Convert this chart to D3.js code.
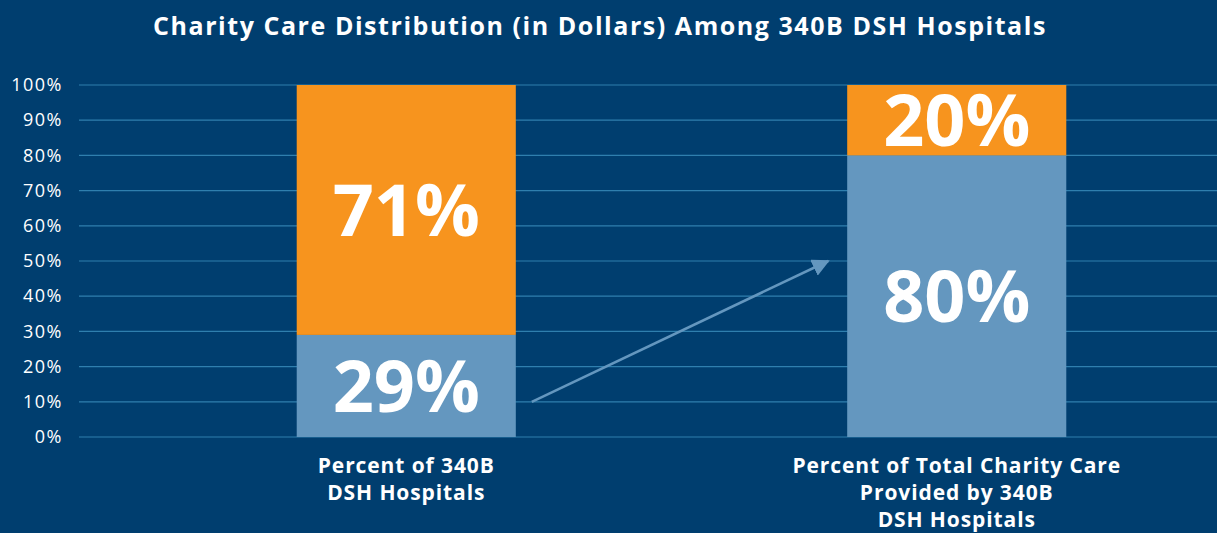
<!DOCTYPE html>
<html>
<head>
<meta charset="utf-8">
<script src="https://cdn.jsdelivr.net/npm/d3@7"></script>
<style>
  html, body { margin: 0; padding: 0; background: #003e6f; }
  #chart { width: 1217px; height: 533px; }
  text { font-family: "Open Sans", sans-serif; }
</style>
</head>
<body>
<div id="chart"></div>
<script>
"use strict";

const categories = ["Percent of 340B DSH Hospitals", "Percent of Total Charity Care Provided by 340B DSH Hospitals"];
const categoryLines = [
  ["Percent of 340B", "DSH Hospitals"],
  ["Percent of Total Charity Care", "Provided by 340B", "DSH Hospitals"],
];
const bottomValues = [29, 80]; // blue share
const topValues = [71, 20]; // orange share
const yTicks = [0, 10, 20, 30, 40, 50, 60, 70, 80, 90, 100];
const arrowFrom = 10; // arrow start level (%)
const arrowTo = 50; // arrow end level (%)

const bg = "#003e6f";
const blue = "#6497bf";
const orange = "#f7941e";
const gridColor = "#2f7fae";

const w = 1217;
const h = 533;

const svg = d3.select("#chart").append("svg").attr("width", w).attr("height", h);

svg.append("rect").attr("width", w).attr("height", h).attr("fill", bg);

// title
svg.append("text")
  .attr("x", 600)
  .attr("y", 35)
  .attr("text-anchor", "middle")
  .attr("fill", "#fff")
  .attr("font-size", 25)
  .attr("font-weight", 700)
  .attr("letter-spacing", 1.55)
  .text("Charity Care Distribution (in Dollars) Among 340B DSH Hospitals");

const y = d3.scaleLinear().domain([0, 100]).range([437, 85]);

const x = d3.scaleBand()
  .domain(categories)
  .range([79, 1284])
  .paddingInner(0.602)
  .paddingOuter(0.3955);

// gridlines
svg.append("g")
  .selectAll("line")
  .data(yTicks)
  .enter()
  .append("line")
  .attr("x1", 79)
  .attr("x2", w)
  .attr("y1", (d) => y(d))
  .attr("y2", (d) => y(d))
  .attr("stroke", gridColor)
  .attr("stroke-width", 1.2);

// y axis labels
const yAxis = svg.append("g")
  .attr("transform", "translate(63,0)")
  .call(d3.axisLeft(y).tickValues(yTicks).tickSize(0).tickPadding(0).tickFormat((d) => d + "%"));
yAxis.select(".domain").remove();
yAxis.selectAll("text")
  .attr("fill", "#fff")
  .attr("font-size", 18)
  .attr("letter-spacing", 1.5)
  .style("font-family", "'Open Sans', sans-serif");

const rows = categories.map((c, i) => ({ cat: c, bottom: bottomValues[i], top: topValues[i] }));

// bars
const bars = svg.append("g");
bars.selectAll("rect.bottom")
  .data(rows)
  .enter()
  .append("rect")
  .attr("class", "bottom")
  .attr("x", (d) => x(d.cat))
  .attr("width", x.bandwidth())
  .attr("y", (d) => y(d.bottom))
  .attr("height", (d) => y(0) - y(d.bottom))
  .attr("fill", blue);

bars.selectAll("rect.top")
  .data(rows)
  .enter()
  .append("rect")
  .attr("class", "top")
  .attr("x", (d) => x(d.cat))
  .attr("width", x.bandwidth())
  .attr("y", (d) => y(d.bottom + d.top))
  .attr("height", (d) => y(d.bottom) - y(d.bottom + d.top))
  .attr("fill", orange);

// value labels
const labels = [];
rows.forEach((d) => {
  labels.push({ cat: d.cat, v: d.bottom, mid: d.bottom / 2 });
  labels.push({ cat: d.cat, v: d.top, mid: d.bottom + d.top / 2 });
});

svg.append("g")
  .selectAll("text")
  .data(labels)
  .enter()
  .append("text")
  .attr("x", (d) => x(d.cat) + x.bandwidth() / 2)
  .attr("y", (d) => y(d.mid))
  .attr("dy", "0.36em")
  .attr("text-anchor", "middle")
  .attr("fill", "#fff")
  .attr("font-size", 72)
  .attr("font-weight", 700)
  .text((d) => d.v + "%");

// arrow between bars
const defs = svg.append("defs");
defs.append("marker")
  .attr("id", "arrowhead")
  .attr("viewBox", "0 0 10 10")
  .attr("refX", 9)
  .attr("refY", 5)
  .attr("markerWidth", 7)
  .attr("markerHeight", 7)
  .attr("markerUnits", "strokeWidth")
  .attr("orient", "auto")
  .append("path")
  .attr("d", "M0,0 L10,5 L0,10 z")
  .attr("fill", blue);

svg.append("line")
  .attr("x1", x(categories[0]) + x.bandwidth() + 16)
  .attr("y1", y(arrowFrom))
  .attr("x2", x(categories[1]) - 19)
  .attr("y2", y(arrowTo))
  .attr("stroke", blue)
  .attr("stroke-width", 2.5)
  .attr("marker-end", "url(#arrowhead)");

// category labels
const cats = svg.append("g");
categories.forEach((c, i) => {
  const t = cats.append("text")
    .attr("x", x(c) + x.bandwidth() / 2)
    .attr("y", 473)
    .attr("text-anchor", "middle")
    .attr("fill", "#fff")
    .attr("font-size", 21)
    .attr("font-weight", 700)
    .attr("letter-spacing", 0.9);
  categoryLines[i].forEach((line, j) => {
    t.append("tspan")
      .attr("x", x(c) + x.bandwidth() / 2)
      .attr("dy", j === 0 ? 0 : 27)
      .text(line);
  });
});
</script>
</body>
</html>
